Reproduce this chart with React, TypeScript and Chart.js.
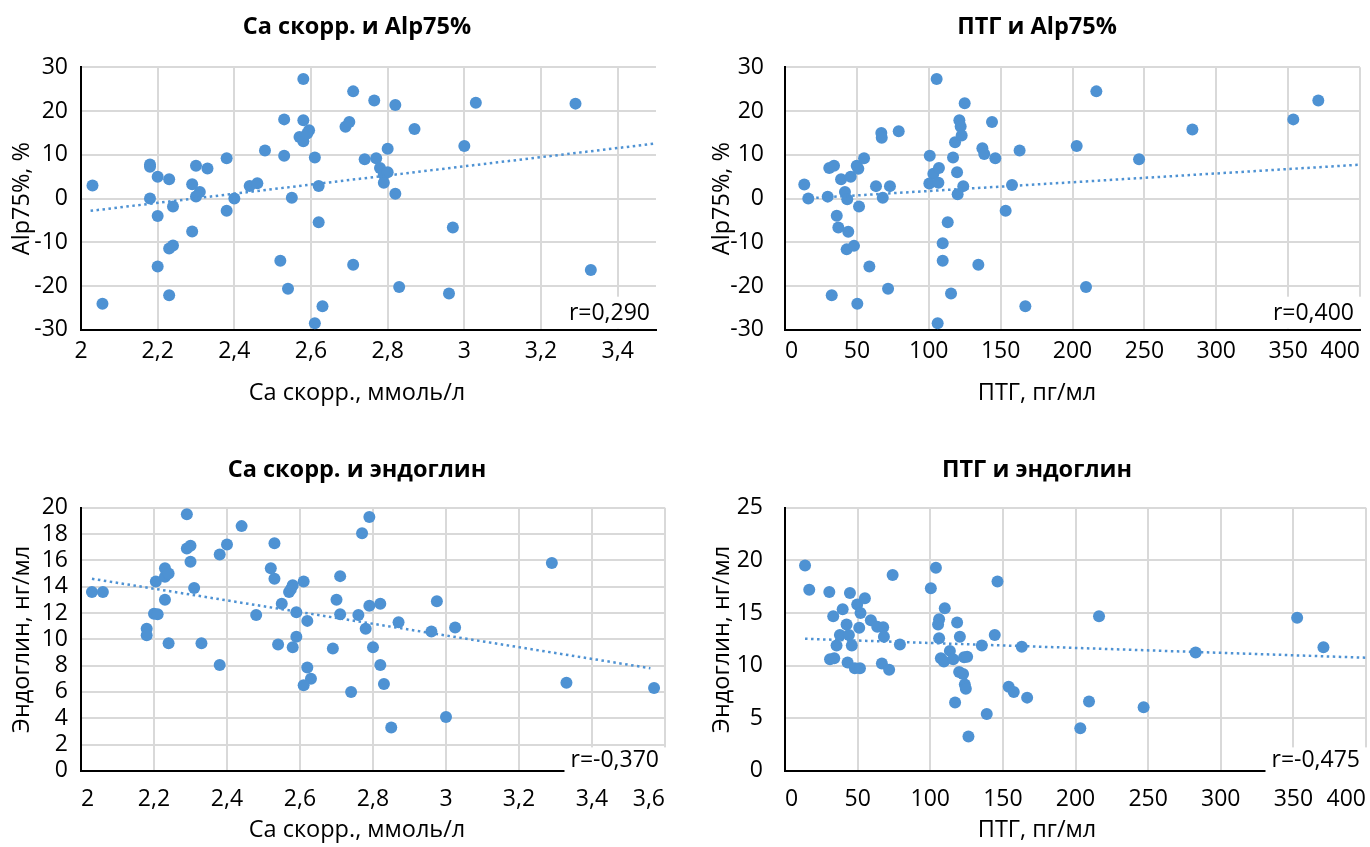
import React, { useEffect, useRef } from "react";
import { Chart, registerables } from "chart.js";

Chart.register(...registerables);

// ---------- Data ----------
// Chart 1: Ca скорр. vs Alp75%
const caAlpX = [
  2.03, 2.056, 2.18, 2.18, 2.2, 2.23, 2.18, 2.2, 2.24, 2.23, 2.24, 2.2, 2.23,
  2.29, 2.3, 2.33, 2.3, 2.31, 2.29, 2.38, 2.38, 2.4, 2.44, 2.46, 2.48, 2.53,
  2.53, 2.52, 2.54, 2.55, 2.58, 2.58, 2.57, 2.58, 2.595, 2.59, 2.61, 2.62,
  2.62, 2.61, 2.63, 2.69, 2.7, 2.71, 2.71, 2.74, 2.765, 2.82, 2.77, 2.78,
  2.79, 2.8, 2.79, 2.8, 2.82, 2.83, 2.87, 2.97, 2.96, 3.0, 3.03, 3.29, 3.33,
];
const caAlpY = [
  3.0, -24.0, 7.8, 7.3, 5.0, 4.4, 0.0, -4.0, -1.8, -11.4, -10.7, -15.5, -22.1,
  3.3, 7.5, 6.9, 0.5, 1.5, -7.5, 9.2, -2.8, 0.0, 2.9, 3.5, 11.0, 18.1, 9.8,
  -14.2, -20.6, 0.2, 27.3, 17.9, 14.1, 13.1, 15.6, 14.9, 9.4, 2.9, -5.4, -28.5,
  -24.6, 16.4, 17.5, 24.5, -15.1, 9.0, 22.4, 21.4, 9.2, 7.0, 5.5, 6.0, 3.6,
  11.4, 1.1, -20.2, 15.9, -6.6, -21.7, 12.0, 21.9, 21.7, -16.3,
];
const caAlpTrend = [
  [2.025, -2.8],
  [3.5, 12.6],
];

// Chart 2: ПТГ vs Alp75%
const pthAlpX = [
  13.4, 16.2, 29.7, 30.8, 34.1, 39, 41.7, 43.3, 45.7, 36, 37.1, 44, 42.9, 48,
  32.5, 50.3, 51.5, 49.9, 51, 55, 58.7, 63.3, 67, 67.3, 68, 73, 71.7, 79.1,
  100.7, 105.5, 103.2, 107.1, 100.4, 106.7, 106.2, 113.2, 109.7, 109.7, 115.5,
  116.9, 118.3, 121.3, 122.2, 122.9, 119.7, 124, 120.1, 125, 134.5, 137.3,
  138.6, 144, 146.3, 153.5, 157.9, 163.2, 167.2, 202.9, 209.4, 216.6, 246.3,
  283.4, 353.6, 371,
];
const pthAlpY = [
  3.2, 0.0, 0.45, 7.0, 7.5, 4.4, 1.5, -0.15, 5.0, -3.9, -6.6, -7.6, -11.6,
  -10.8, -22.1, -24.0, -1.8, 7.5, 6.8, 9.2, -15.5, 2.85, 15.0, 13.9, 0.2, 2.85,
  -20.6, 15.4, 9.8, 27.3, 5.7, 7.0, 3.45, 3.6, -28.5, -5.4, -10.2, -14.2, -21.7,
  9.4, 12.9, 17.9, 16.5, 14.4, 6.0, 2.85, 1.0, 21.8, -15.1, 11.5, 10.2, 17.5,
  9.2, -2.8, 3.1, 11.0, -24.6, 12.0, -20.2, 24.5, 9.0, 15.8, 18.1, 22.4,
];
const pthAlpTrend = [
  [13.4, 0.0],
  [400, 7.75],
];

// Chart 3: Ca скорр. vs эндоглин
const caEndX = [
  2.03, 2.06, 2.18, 2.18, 2.2, 2.21, 2.205, 2.23, 2.23, 2.24, 2.23, 2.24, 2.29,
  2.29, 2.3, 2.3, 2.31, 2.33, 2.38, 2.38, 2.4, 2.44, 2.48, 2.52, 2.53, 2.53,
  2.54, 2.55, 2.57, 2.575, 2.58, 2.58, 2.59, 2.59, 2.61, 2.62, 2.62, 2.63,
  2.61, 2.69, 2.7, 2.71, 2.71, 2.74, 2.76, 2.77, 2.79, 2.78, 2.79, 2.82, 2.8,
  2.82, 2.83, 2.85, 2.87, 2.96, 2.975, 3.0, 3.025, 3.29, 3.33, 3.57,
];
const caEndY = [
  13.6, 13.6, 10.8, 10.3, 11.95, 11.9, 14.4, 15.4, 14.75, 15.0, 13.0, 9.7, 19.5,
  16.9, 17.1, 15.9, 13.9, 9.7, 16.45, 8.05, 17.2, 18.6, 11.85, 15.4, 14.6, 17.3,
  9.6, 12.7, 13.6, 13.8, 14.1, 9.4, 10.2, 12.05, 14.4, 11.4, 7.85, 7.0, 6.5,
  9.3, 13.0, 14.8, 11.9, 6.0, 11.85, 18.05, 19.3, 10.8, 12.55, 12.7, 9.4, 8.05,
  6.6, 3.3, 11.3, 10.6, 12.9, 4.1, 10.9, 15.8, 6.7, 6.3,
];
const caEndTrend = [
  [2.03, 14.6],
  [3.56, 7.8],
];

// Chart 4: ПТГ vs эндоглин
const pthEndX = [
  13.8, 16.7, 30.5, 33.2, 39.7, 44.7, 49.7, 52, 55, 42.4, 51.1, 37.8, 44, 35.5,
  46, 31, 33.9, 43.1, 48.1, 51.6, 59.1, 63.5, 67.6, 68.1, 66.7, 71.7, 74.1,
  79.1, 103.9, 100.4, 110, 106.1, 105.4, 106.1, 118.5, 120.4, 113.5, 107.3,
  109.4, 115.8, 123.3, 125.4, 119.9, 122.6, 123.8, 124.5, 117.1, 126.3, 135.5,
  138.9, 144.4, 146.3, 154, 157.5, 163, 166.7, 203.3, 209.3, 216.2, 246.9,
  282.7, 352.6, 370.7,
];
const pthEndY = [
  19.5, 17.2, 17.0, 14.7, 15.35, 16.9, 15.8, 15.0, 16.4, 13.9, 13.6, 12.9, 12.9,
  11.9, 11.9, 10.6, 10.7, 10.3, 9.75, 9.75, 14.3, 13.7, 13.65, 12.75, 10.2, 9.6,
  18.6, 12.0, 19.3, 17.35, 15.45, 14.4, 13.9, 12.6, 14.1, 12.75, 11.4, 10.7,
  10.4, 10.6, 10.8, 10.85, 9.4, 9.2, 8.2, 7.8, 6.5, 3.26, 11.9, 5.4, 12.9, 18.0,
  8.0, 7.5, 11.8, 6.96, 4.05, 6.6, 14.7, 6.05, 11.25, 14.55, 11.75,
];
const pthEndTrend = [
  [13.8, 12.55],
  [400, 10.75],
];

const rLabels = ["r=0,290", "r=0,400", "r=-0,370", "r=-0,475"];
const titles = [
  "Ca скорр. и Alp75%",
  "ПТГ и Alp75%",
  "Ca скорр. и эндоглин",
  "ПТГ и эндоглин",
];
const xTitles = [
  "Ca скорр., ммоль/л",
  "ПТГ, пг/мл",
  "Ca скорр., ммоль/л",
  "ПТГ, пг/мл",
];
const yTitles = ["Alp75%, %", "Alp75%, %", "Эндоглин, нг/мл", "Эндоглин, нг/мл"];

// ---------- Styling ----------
const BLUE = "#4e92d3";
const GRID = "#d9d9d9";
const FONT = '"Open Sans", "Noto Sans", sans-serif';
const TICK_SIZE = 23;
const TITLE_SIZE = 23.5;
const AXIS_TITLE_SIZE = 23.5;
Chart.defaults.font.family = FONT;
Chart.defaults.color = "#000";

const fmtComma = (v: number | string) =>
  (Math.round(Number(v) * 10) / 10).toString().replace(".", ",");
const fmtInt = (v: number | string) => String(Math.round(Number(v)));

const rLabelPlugin = {
  id: "rLabel",
  afterDatasetsDraw(chart: any, _args: any, opts: any) {
    const { ctx, chartArea } = chart;
    ctx.save();
    ctx.font = `${opts.size}px ${FONT}`;
    const w = ctx.measureText(opts.text).width + opts.padX * 2;
    const h = opts.boxH;
    const bottom = chartArea.bottom + (opts.cover ? 1.5 : -1.2);
    const x = chartArea.right - w;
    const y = bottom - h;
    ctx.fillStyle = "#fff";
    ctx.fillRect(x, y, w + 2, h);
    ctx.fillStyle = "#000";
    ctx.textAlign = "center";
    ctx.textBaseline = "middle";
    ctx.fillText(opts.text, x + w / 2, y + h / 2 + 0.5);
    ctx.restore();
  },
};

type Panel = {
  left: number;
  top: number;
  width: number;
  height: number;
  idx: number;
  xs: number[];
  ys: number[];
  trend: number[][];
  xMin: number;
  xMax: number;
  xStep: number;
  yMin: number;
  yMax: number;
  yStep: number;
  comma: boolean;
  includeBounds: boolean;
  xAlign: "center" | "inner";
  yAxisWidth: number;
  yTickPad: number;
  xTickPad: number;
  xAxisHeight: number;
  titlePad: { top: number; bottom: number };
  subPad: { top: number; bottom: number };
  rightSpace: number;
  rBoxH: number;
  rCover: boolean;
};

const panels: Panel[] = [
  {
    left: 0, top: 0, width: 714, height: 412, idx: 0,
    xs: caAlpX, ys: caAlpY, trend: caAlpTrend,
    xMin: 2, xMax: 3.5, xStep: 0.2, yMin: -30, yMax: 30, yStep: 10,
    comma: true, includeBounds: false, xAlign: "center",
    yAxisWidth: 81, yTickPad: 13, xTickPad: 8.2, xAxisHeight: 36,
    titlePad: { top: 12.9, bottom: 26.2 }, subPad: { top: 12.9, bottom: 5 },
    rightSpace: 58, rBoxH: 32, rCover: false,
  },
  {
    left: 700, top: 0, width: 674, height: 412, idx: 1,
    xs: pthAlpX, ys: pthAlpY, trend: pthAlpTrend,
    xMin: 0, xMax: 400, xStep: 50, yMin: -30, yMax: 30, yStep: 10,
    comma: false, includeBounds: true, xAlign: "inner",
    yAxisWidth: 85, yTickPad: 21, xTickPad: 8.2, xAxisHeight: 36,
    titlePad: { top: 12.9, bottom: 26.2 }, subPad: { top: 12.9, bottom: 5 },
    rightSpace: 14, rBoxH: 32, rCover: false,
  },
  {
    left: 0, top: 440, width: 714, height: 409, idx: 2,
    xs: caEndX, ys: caEndY, trend: caEndTrend,
    xMin: 2, xMax: 3.6, xStep: 0.2, yMin: 0, yMax: 20, yStep: 2,
    comma: true, includeBounds: true, xAlign: "inner",
    yAxisWidth: 81, yTickPad: 13, xTickPad: 15.2, xAxisHeight: 43,
    titlePad: { top: 15.9, bottom: 23.6 }, subPad: { top: 1.9, bottom: 5 },
    rightSpace: 49, rBoxH: 25, rCover: true,
  },
  {
    left: 700, top: 440, width: 674, height: 409, idx: 3,
    xs: pthEndX, ys: pthEndY, trend: pthEndTrend,
    xMin: 0, xMax: 400, xStep: 50, yMin: 0, yMax: 25, yStep: 5,
    comma: false, includeBounds: true, xAlign: "inner",
    yAxisWidth: 85, yTickPad: 22, xTickPad: 15.2, xAxisHeight: 43,
    titlePad: { top: 15.9, bottom: 23.6 }, subPad: { top: 1.9, bottom: 5 },
    rightSpace: 8, rBoxH: 25, rCover: true,
  },
];

function buildConfig(p: Panel): any {
  return {
    type: "scatter",
    data: {
      datasets: [
        {
          type: "scatter",
          data: p.xs.map((x, i) => ({ x, y: p.ys[i] })),
          backgroundColor: BLUE,
          borderColor: BLUE,
          pointRadius: 6,
          pointBorderWidth: 0,
          order: 1,
        },
        {
          type: "line",
          data: p.trend.map(([x, y]) => ({ x, y })),
          borderColor: BLUE,
          borderWidth: 2.5,
          borderDash: [2.5, 3.5],
          pointRadius: 0,
          fill: false,
          tension: 0,
          order: 0,
        },
      ],
    },
    options: {
      responsive: false,
      animation: false,
      events: [],
      layout: { padding: 0 },
      plugins: {
        legend: { display: false },
        tooltip: { enabled: false },
        title: {
          display: true,
          text: titles[p.idx],
          font: { size: TITLE_SIZE, weight: "bold" },
          color: "#000",
          padding: p.titlePad,
        },
        subtitle: {
          display: true,
          text: xTitles[p.idx],
          position: "bottom",
          font: { size: AXIS_TITLE_SIZE, weight: "normal" },
          color: "#000",
          padding: p.subPad,
        },
        rLabel: {
          text: rLabels[p.idx],
          size: 23,
          padX: 6,
          boxH: p.rBoxH,
          cover: p.rCover,
        },
      },
      scales: {
        x: {
          type: "linear",
          min: p.xMin,
          max: p.xMax,
          ticks: {
            stepSize: p.xStep,
            includeBounds: p.includeBounds,
            align: p.xAlign,
            padding: p.xTickPad,
            font: { size: TICK_SIZE },
            color: "#000",
            maxRotation: 0,
            autoSkip: false,
            callback: (v: number) => (p.comma ? fmtComma(v) : fmtInt(v)),
          },
          grid: { color: GRID, lineWidth: 2, drawTicks: false },
          border: { color: "#000", width: 2 },
          afterFit: (s: any) => {
            s.height = p.xAxisHeight;
            s.paddingLeft = 0;
            s.paddingRight = 0;
          },
        },
        y: {
          type: "linear",
          min: p.yMin,
          max: p.yMax,
          ticks: {
            stepSize: p.yStep,
            padding: p.yTickPad,
            font: { size: TICK_SIZE },
            color: "#000",
            autoSkip: false,
            callback: (v: number) => fmtInt(v),
          },
          grid: { color: GRID, lineWidth: 2, drawTicks: false },
          border: { color: "#000", width: 2 },
          title: {
            display: true,
            text: yTitles[p.idx],
            font: { size: AXIS_TITLE_SIZE },
            color: "#000",
            padding: { top: 7.9, bottom: 0 },
          },
          afterFit: (s: any) => {
            s.width = p.yAxisWidth;
            s.paddingTop = 0;
            s.paddingBottom = 0;
          },
        },
        // empty spacer on the right so titles stay centred on the whole panel
        spacer: {
          type: "linear",
          position: "right",
          display: true,
          grid: { display: false, drawOnChartArea: false, drawTicks: false },
          border: { display: false },
          ticks: { display: false },
          afterFit: (s: any) => {
            s.width = p.rightSpace;
            s.paddingTop = 0;
            s.paddingBottom = 0;
          },
        },
      },
    },
    plugins: [rLabelPlugin],
  };
}

function ScatterPanel({ p }: { p: Panel }) {
  const ref = useRef<HTMLCanvasElement | null>(null);
  useEffect(() => {
    if (!ref.current) return;
    const chart = new Chart(ref.current, buildConfig(p));
    return () => chart.destroy();
  }, []);
  return (
    <canvas
      ref={ref}
      width={p.width}
      height={p.height}
      style={{
        position: "absolute",
        left: p.left,
        top: p.top,
        width: p.width,
        height: p.height,
      }}
    />
  );
}

export default function App() {
  return (
    <div
      style={{
        position: "fixed",
        left: 0,
        top: 0,
        width: 1370,
        height: 847,
        overflow: "hidden",
        background: "#fff",
      }}
    >
      {panels.map((p) => (
        <ScatterPanel key={p.idx} p={p} />
      ))}
    </div>
  );
}
